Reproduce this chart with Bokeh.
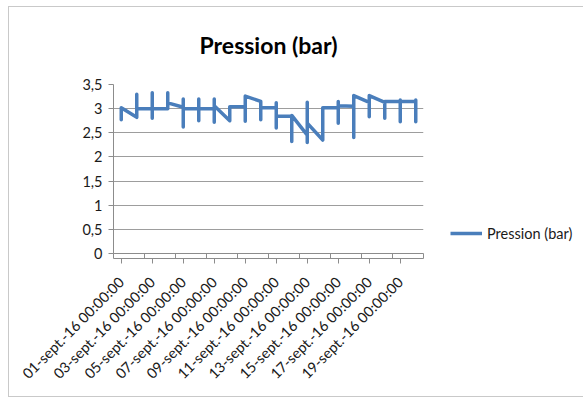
import math
from bokeh.plotting import figure
from bokeh.models import FixedTicker, Legend, LegendItem, Title, Range1d, LinearAxis
from bokeh.embed import file_html
from bokeh.resources import INLINE

titre = "Pression (bar)"
serie = "Pression (bar)"

# day of September for each reading (several readings per day)
jours = [1, 1, 1,
         2, 2, 2,
         3, 3, 3, 3,
         4, 4, 4,
         5, 5, 5, 5,
         6, 6, 6, 6,
         7, 7, 7, 7,
         8, 8,
         9, 9, 9,
         10, 10, 10,
         11, 11, 11, 11,
         12, 12, 12,
         13, 13, 13, 13,
         14, 14,
         15, 15, 15, 15,
         16, 16, 16,
         17, 17, 17,
         18, 18, 18,
         19, 19, 19, 19,
         20, 20, 20, 20]

pression = [3.00, 2.77, 3.02,
            2.82, 3.30, 3.00,
            3.00, 3.33, 2.80, 3.00,
            3.00, 3.33, 3.12,
            3.03, 3.20, 2.62, 3.00,
            3.00, 3.20, 2.75, 3.00,
            3.00, 3.20, 2.72, 3.06,
            2.75, 3.04,
            3.04, 2.74, 3.26,
            3.15, 2.77, 3.02,
            3.02, 3.12, 2.60, 2.84,
            2.84, 2.32, 2.86,
            2.45, 3.13, 2.30, 2.70,
            2.35, 3.02,
            3.02, 3.15, 2.70, 3.06,
            3.05, 2.40, 3.27,
            3.13, 2.83, 3.27,
            3.13, 2.80, 3.15,
            3.15, 3.18, 2.73, 3.15,
            3.15, 3.18, 2.73, 3.15]

graduations_x = [0.5, 2.5, 4.5, 6.5, 8.5, 10.5, 12.5, 14.5, 16.5, 18.5, 20.5]
etiquettes_x = ["01-sept.-16 00:00:00", "03-sept.-16 00:00:00", "05-sept.-16 00:00:00",
                "07-sept.-16 00:00:00", "09-sept.-16 00:00:00", "11-sept.-16 00:00:00",
                "13-sept.-16 00:00:00", "15-sept.-16 00:00:00", "17-sept.-16 00:00:00",
                "19-sept.-16 00:00:00", ""]
graduations_y = [0, 0.5, 1, 1.5, 2, 2.5, 3, 3.5]
etiquettes_y = ["0", "0,5", "1", "1,5", "2", "2,5", "3", "3,5"]

FONT = "Lato"
GRIS = "#8c8c8c"
GRILLE = "#9d9d9d"
TXT = "#1a1a1a"
BORD = "1px solid #c9c9c9"

FL, FT, FW, FH = 104, 77, 310, 169
FR, FB = 158, 143

p = figure(frame_width=FW, frame_height=FH, output_backend="svg", toolbar_location=None,
           x_range=Range1d(graduations_x[0], graduations_x[-1]),
           y_range=Range1d(graduations_y[0], graduations_y[-1]),
           min_border_left=FL, min_border_right=FR,
           min_border_top=FT, min_border_bottom=FB)
p.styles = {"margin-left": "8px", "margin-top": "6px",
            "border-left": BORD, "border-top": BORD, "border-bottom": BORD}
p.outline_line_color = None
p.background_fill_color = "white"
p.border_fill_color = "white"

r = p.line(jours, pression, line_color="#4a7ebb", line_width=3.5, line_join="round")

# main x axis: tick marks only (its labels are not drawn)
p.xaxis.ticker = FixedTicker(ticks=graduations_x)
p.xaxis.major_label_overrides = {t: "" for t in graduations_x}
p.xaxis.major_label_text_alpha = 0
p.xaxis.major_label_standoff = 0

# label axis: rotated date labels, shifted half a day so their ends sit right of the ticks
pos_etiq = [g + 0.5 for g in graduations_x[:-1]]
ax_lab = LinearAxis(ticker=FixedTicker(ticks=pos_etiq),
                    major_label_overrides={t: s for t, s in zip(pos_etiq, etiquettes_x)},
                    major_label_orientation=math.pi / 4,
                    axis_line_color=None, major_tick_line_color=None,
                    minor_tick_line_color=None, major_label_standoff=16,
                    major_label_text_font=FONT, major_label_text_font_size="14.5px",
                    major_label_text_color=TXT)
p.add_layout(ax_lab, "below")

p.yaxis.ticker = FixedTicker(ticks=graduations_y)
p.yaxis.major_label_overrides = {t: s for t, s in zip(graduations_y, etiquettes_y)}
for ax in (p.xaxis, p.yaxis):
    ax.axis_line_color = GRIS
    ax.major_tick_line_color = GRIS
    ax.major_tick_out = 5
    ax.major_tick_in = 0
    ax.minor_tick_line_color = None
p.yaxis.major_label_text_font = FONT
p.yaxis.major_label_text_font_size = "14.5px"
p.yaxis.major_label_text_color = TXT
p.yaxis.major_label_standoff = 6
p.xgrid.grid_line_color = None
p.ygrid.ticker = FixedTicker(ticks=graduations_y)
p.ygrid.grid_line_color = GRILLE
p.ygrid.grid_line_width = 1

p.add_layout(Title(text=titre, align="center", vertical_align="top", text_font=FONT,
                   text_font_style="bold", text_font_size="23px", text_color="black",
                   standoff=47), "above")

legend = Legend(items=[LegendItem(label=serie, renderers=[r])], location=(27, 10),
                border_line_color=None, background_fill_alpha=0, padding=0, margin=0,
                glyph_width=32, glyph_height=20, label_standoff=5,
                label_text_font=FONT, label_text_font_size="14.5px", label_text_color=TXT)
p.add_layout(legend, "right")

open("out.html", "w").write(file_html(p, INLINE))
